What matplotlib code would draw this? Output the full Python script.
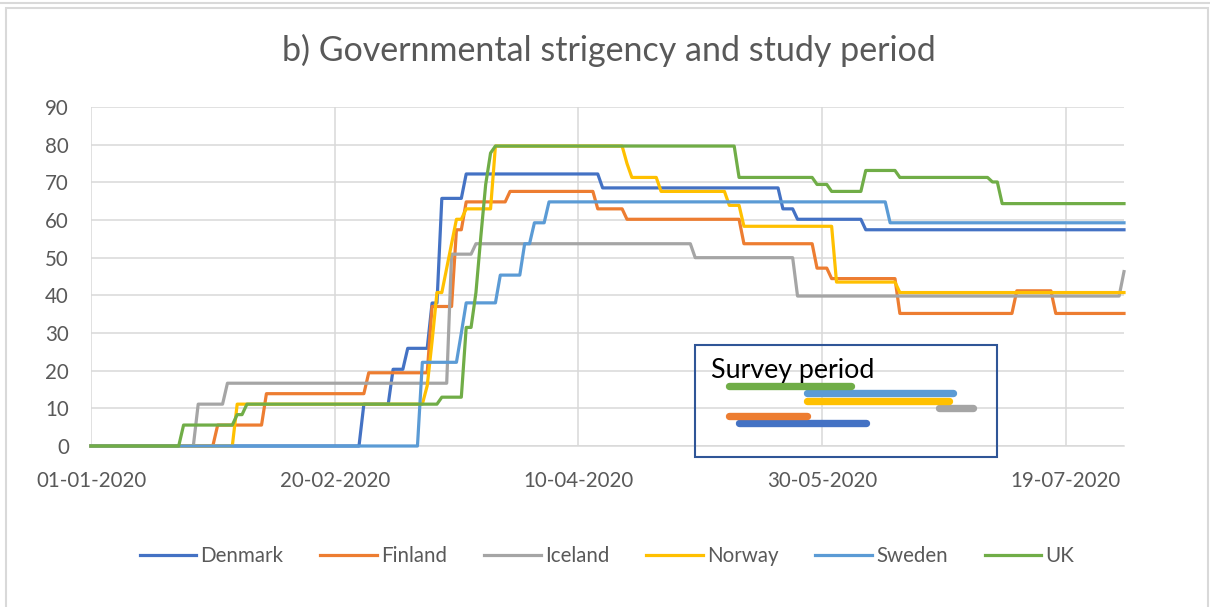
import matplotlib
matplotlib.use('Agg')
import matplotlib.pyplot as plt
import matplotlib.dates as mdates
import pandas as pd
import numpy as np
from matplotlib.patches import Rectangle
from matplotlib.lines import Line2D

plt.rcParams['font.family'] = ['Lato', 'DejaVu Sans']

# ---------------- data ----------------
countries = ['Denmark', 'Finland', 'Iceland', 'Norway', 'Sweden', 'UK']
colors = ['#4472C4', '#ED7D31', '#A5A5A5', '#FFC000', '#5B9BD5', '#70AD47']

# change days (days since 01-01-2020) and stringency level from that day on
denmark_days = [0, 56, 62, 65, 70, 72, 77, 105, 142, 145, 159]
denmark_vals = [0, 11.11, 20.37, 25.93, 37.96, 65.74, 72.22, 68.52, 62.96, 60.19, 57.41]

finland_days = [0, 26, 36, 57, 70, 75, 77, 86, 104, 110, 134, 149, 152, 166, 190, 198]
finland_vals = [0, 5.56, 13.89, 19.44, 37.04, 57.41, 64.81, 67.59, 62.96, 60.19, 53.70,
                47.22, 44.44, 35.19, 41.20, 35.19]

iceland_days = [0, 22, 28, 74, 79, 124, 145, 212]
iceland_vals = [0, 11.11, 16.67, 50.93, 53.70, 50.00, 39.81, 46.30]

norway_days = [0, 30, 69, 70, 71, 73, 74, 75, 77, 83, 110, 111, 117, 131, 134, 153, 166]
norway_vals = [0, 11.11, 16.0, 27.78, 40.74, 47.22, 53.70, 60.19, 62.96, 79.63, 75.0,
               71.30, 67.59, 63.89, 58.33, 43.52, 40.74]

sweden_days = [0, 68, 76, 77, 84, 89, 91, 94, 164]
sweden_vals = [0, 22.22, 30.0, 38.0, 45.37, 53.70, 59.26, 64.81, 59.26]

uk_days = [0, 19, 30, 32, 72, 77, 79, 80, 81, 82, 83, 133, 149, 152, 159, 166, 185, 187]
uk_vals = [0, 5.56, 8.33, 11.11, 12.96, 31.48, 40.74, 55.56, 69.44, 77.78, 79.63,
           71.30, 69.44, 67.59, 73.15, 71.30, 70.10, 64.35]

# survey periods (days since 01-01-2020), order as countries
survey_start = [133, 131, 174, 147, 147, 131]
survey_end = [159, 147, 181, 176, 177, 156]

tick_dates = ['2020-01-01', '2020-02-20', '2020-04-10', '2020-05-30', '2020-07-19']
title = 'b) Governmental strigency and study period'

# ---------------- figure ----------------
W, H = 1210, 607
fig = plt.figure(figsize=(W / 100, H / 100), dpi=100)
fig.patch.set_facecolor('white')

# outer frames
fig.add_artist(Line2D([0, 1], [1 - 2.7 / H, 1 - 2.7 / H], transform=fig.transFigure,
                      color='#D9D9D9', lw=1.5))
fig.add_artist(Rectangle((6 / W, -0.05), (1208 - 6) / W, 1.05 - 8 / H,
                         transform=fig.transFigure, fill=False, ec='#D9D9D9', lw=1.5))

ax = fig.add_axes([91 / W, 1 - 446 / H, (1124 - 91) / W, (446 - 107) / H])

base = pd.Timestamp('2020-01-01')
full = pd.date_range('2020-01-01', '2020-07-31', freq='D')

series = [(denmark_days, denmark_vals), (finland_days, finland_vals),
          (iceland_days, iceland_vals), (norway_days, norway_vals),
          (sweden_days, sweden_vals), (uk_days, uk_vals)]

handles = []
for (days, vals), name, c in zip(series, countries, colors):
    idx = base + pd.to_timedelta(days, unit='D')
    s = pd.Series(vals, index=idx).reindex(full).ffill()
    ln, = ax.plot(s.index, s.values, color=c, lw=2.3, label=name, clip_on=False,
                  solid_joinstyle='round', zorder=3)
    handles.append(ln)

# survey period bars
bar_y = [6.0, 8.0, 10.0, 11.9, 14.0, 15.9]
for st, en, y, c in zip(survey_start, survey_end, bar_y, colors):
    ax.plot([base + pd.Timedelta(days=st), base + pd.Timedelta(days=en)], [y, y],
            color=c, lw=5.3, solid_capstyle='round', zorder=4)

ax.set_xlim(pd.Timestamp('2020-01-01'), pd.Timestamp('2020-07-31'))
ax.set_ylim(0, 90)
ax.set_yticks(np.arange(0, 91, 10))
ax.set_xticks(pd.to_datetime(tick_dates))
ax.xaxis.set_major_formatter(mdates.DateFormatter('%d-%m-%Y'))

ax.grid(True, color='#D9D9D9', lw=1.1, zorder=0)
ax.set_axisbelow(True)
for sp in ['top', 'right', 'left']:
    ax.spines[sp].set_visible(False)
ax.spines['bottom'].set_color('#D9D9D9')
ax.spines['bottom'].set_linewidth(1.1)
ax.tick_params(axis='both', length=0, labelsize=14.8, labelcolor='#595959')
ax.tick_params(axis='y', pad=16)
ax.tick_params(axis='x', pad=18)

# title
fig.text(0.503, 1 - 50 / H, title, ha='center', va='center', fontsize=24.5, color='#595959')

# survey period box
fig.add_artist(Rectangle((695 / W, 1 - 457 / H), (997 - 695) / W, (457 - 345) / H,
                         transform=fig.transFigure, fill=False, ec='#2F5597', lw=1.5, zorder=5))
fig.text(711 / W, 1 - 378 / H, 'Survey period', ha='left', va='baseline',
         fontsize=19.3, color='black')

# legend
fig.legend(handles=handles, labels=countries, loc='center', ncol=6,
           bbox_to_anchor=(607 / W, 1 - 556 / H), frameon=False, fontsize=14.8,
           handlelength=2.75, handletextpad=0.2, columnspacing=1.8,
           labelcolor='#595959')

fig.savefig('out.png', dpi=100, facecolor='white')
